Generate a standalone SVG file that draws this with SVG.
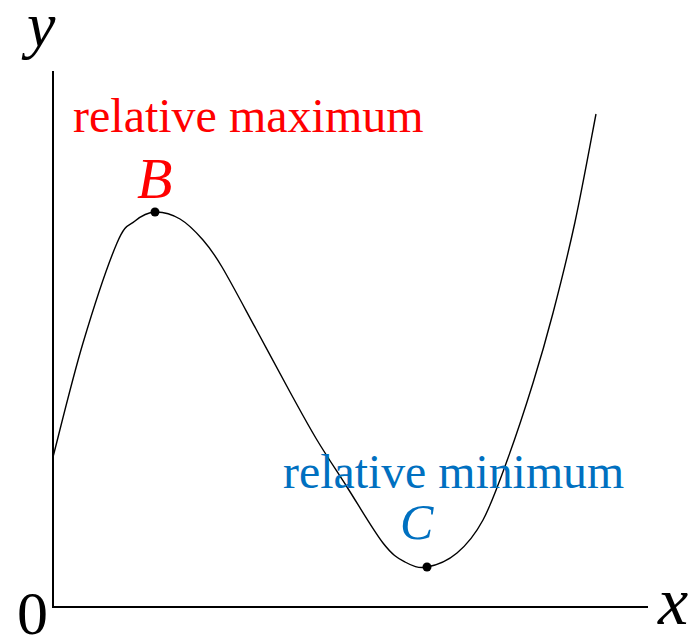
<svg xmlns="http://www.w3.org/2000/svg" width="688" height="639" viewBox="0 0 688 639">
<style>
.axis{stroke:#000;stroke-width:2;fill:none}
.curve{stroke:#000;stroke-width:1.4;fill:none}
.lbl{font-family:"Liberation Serif","Times New Roman",serif}
.math{font-family:"Liberation Serif","Times New Roman",serif;font-style:italic}
.red{fill:#FF0000}
.blue{fill:#0070C0}
</style>
<rect width="688" height="639" fill="#fff"/>
<g id="axes">
<line class="axis" x1="53" y1="71" x2="53" y2="608"/>
<line class="axis" x1="52" y1="607" x2="648" y2="607"/>
<text class="math" x="27" y="46" font-size="64">y</text>
<text class="math" x="658" y="624" font-size="68">x</text>
<text class="lbl" x="17" y="634" font-size="62">0</text>
</g>
<g id="connectors">
<path class="curve" d="M53,457 C58,438 72.3,378.7 83,343 C93.7,307.3 108.3,263.3 117,243 C125.7,222.7 128.7,226.2 135,221 C141.3,215.8 147.5,212.3 155,212 C162.5,211.7 172,214.3 180,219 C188,223.7 196,232 203,240 C210,248 213.2,252.2 222,267 C230.8,281.8 244.7,308.2 256,329 C267.3,349.8 279.8,373.5 290,392 C300.2,410.5 307.5,424.2 317,440 C326.5,455.8 336,469.8 347,487 C358,504.2 373.3,530.5 383,543 C392.7,555.5 397.7,558 405,562 C412.3,566 418.3,568.5 427,567 C435.7,565.5 447.7,560.8 457,553 C466.3,545.2 474.5,535.8 483,520 C491.5,504.2 499.7,480.8 508,458 C516.3,435.2 525.5,407.2 533,383 C540.5,358.8 546,339.8 553,313 C560,286.2 567.8,255.2 575,222 C582.2,188.8 592.5,132 596,114"/>
</g>
<g id="nodeB">
<circle cx="155" cy="212" r="4.5" fill="#000"/>
<text class="math red" x="137" y="198" font-size="58">B</text>
<text class="lbl red" x="73" y="132" font-size="48">relative maximum</text>
</g>
<g id="nodeC">
<circle cx="427" cy="567" r="4.5" fill="#000"/>
<text class="math blue" x="400" y="539" font-size="50">C</text>
<text class="lbl blue" x="283" y="488" font-size="47.8">relative minimum</text>
</g>
</svg>
